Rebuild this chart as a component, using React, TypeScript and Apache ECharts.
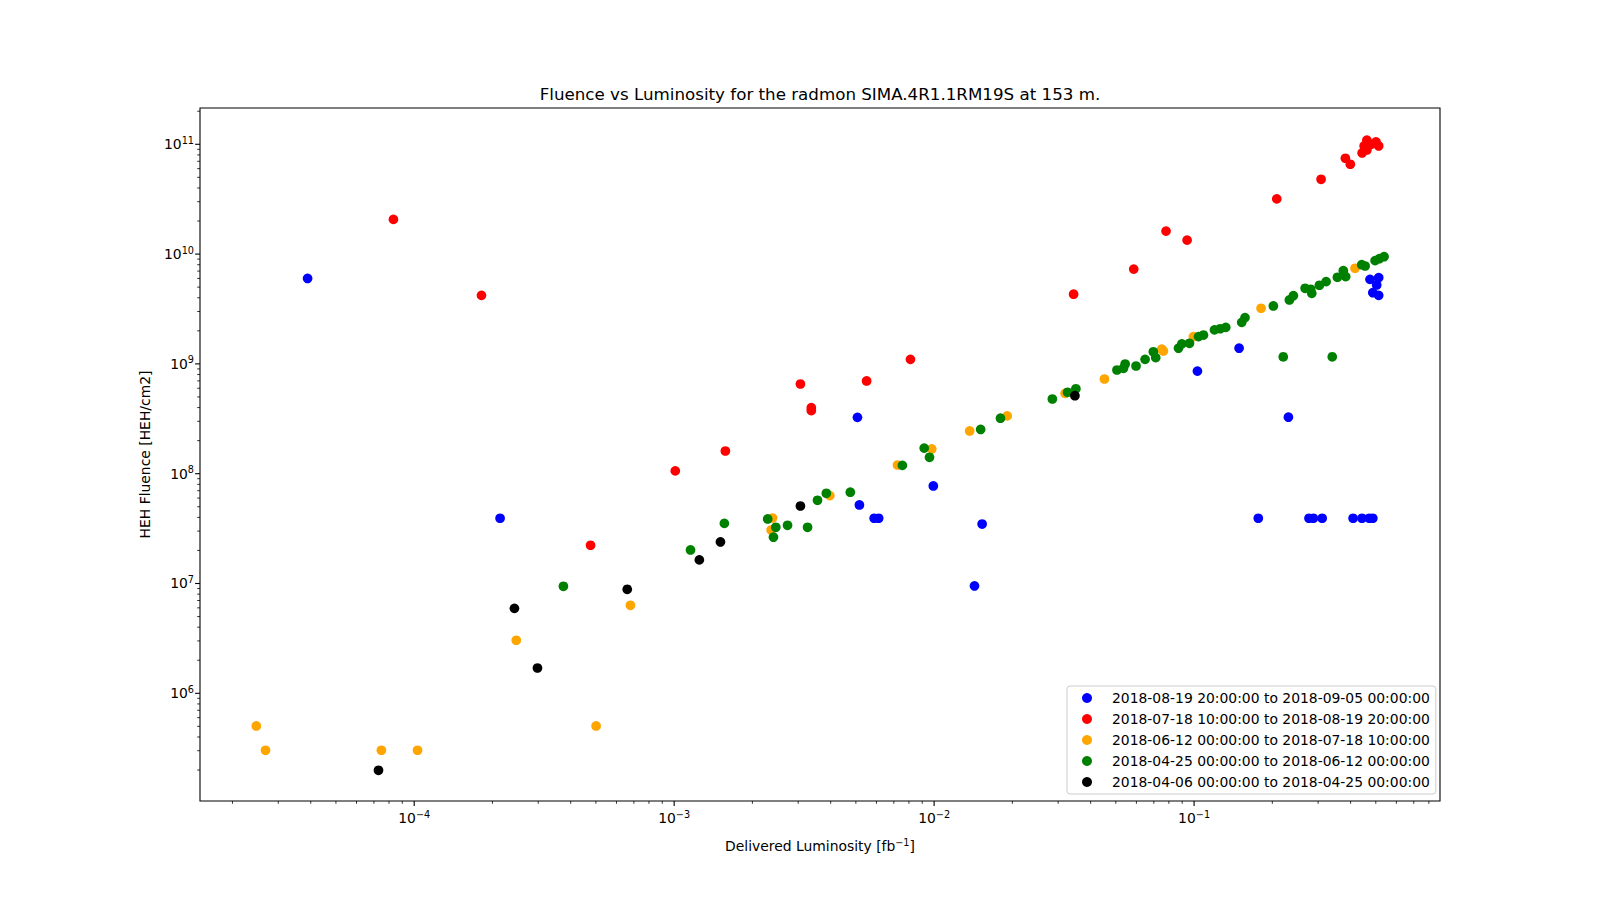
import React, { useEffect, useRef } from 'react';
import * as echarts from 'echarts';

const TITLE = 'Fluence vs Luminosity for the radmon SIMA.4R1.1RM19S at 153 m.';
const FONT = '"DejaVu Sans", Verdana, sans-serif';

const PERIODS = [
  '2018-08-19 20:00:00 to 2018-09-05 00:00:00',
  '2018-07-18 10:00:00 to 2018-08-19 20:00:00',
  '2018-06-12 00:00:00 to 2018-07-18 10:00:00',
  '2018-04-25 00:00:00 to 2018-06-12 00:00:00',
  '2018-04-06 00:00:00 to 2018-04-25 00:00:00',
];
const COLORS = ['#0000ff', '#ff0000', '#ffa500', '#008000', '#000000'];

// [delivered luminosity fb^-1, HEH fluence HEH/cm2]
const blueData = [
  [3.89e-5, 6.0e9], [2.14e-4, 3.93e7], [5.07e-3, 3.26e8], [5.16e-3, 5.19e7],
  [5.88e-3, 3.93e7], [6.12e-3, 3.93e7], [9.93e-3, 7.73e7], [1.43e-2, 9.5e6],
  [1.53e-2, 3.48e7], [0.103, 8.6e8], [0.149, 1.39e9], [0.1766, 3.93e7],
  [0.2306, 3.27e8], [0.2767, 3.93e7], [0.2877, 3.93e7], [0.311, 3.93e7],
  [0.409, 3.93e7], [0.4425, 3.93e7], [0.472, 3.93e7], [0.487, 3.93e7],
  [0.475, 5.89e9], [0.513, 6.1e9], [0.504, 5.23e9], [0.487, 4.45e9], [0.513, 4.21e9],
];

const redData = [
  [8.32e-5, 2.07e10], [1.815e-4, 4.21e9], [4.77e-4, 2.23e7], [1.01e-3, 1.06e8],
  [1.574e-3, 1.61e8], [3.06e-3, 6.56e8], [3.37e-3, 3.99e8], [3.37e-3, 3.75e8],
  [5.5e-3, 6.99e8], [8.11e-3, 1.1e9], [3.44e-2, 4.31e9], [5.86e-2, 7.3e9],
  [0.078, 1.62e10], [0.094, 1.34e10], [0.208, 3.18e10], [0.308, 4.8e10],
  [0.382, 7.46e10], [0.399, 6.58e10], [0.443, 8.34e10], [0.451, 9.66e10],
  [0.462, 1.09e11], [0.462, 8.87e10], [0.48, 1.0e11], [0.501, 1.05e11], [0.513, 9.66e10],
];

const orangeData = [
  [2.47e-5, 5.04e5], [2.68e-5, 3.03e5], [7.48e-5, 3.03e5], [1.03e-4, 3.03e5],
  [2.47e-4, 3.04e6], [5.01e-4, 5.04e5], [6.79e-4, 6.33e6], [2.39e-3, 3.95e7],
  [2.36e-3, 3.07e7], [3.97e-3, 6.31e7], [7.23e-3, 1.2e8], [9.79e-3, 1.68e8],
  [1.37e-2, 2.45e8], [1.91e-2, 3.36e8], [3.19e-2, 5.39e8], [4.52e-2, 7.28e8],
  [7.51e-2, 1.36e9], [7.62e-2, 1.31e9], [9.94e-2, 1.77e9], [0.181, 3.21e9], [0.416, 7.43e9],
];

const greenData = [
  [3.75e-4, 9.43e6], [1.156e-3, 2.02e7], [1.56e-3, 3.53e7], [2.29e-3, 3.87e7],
  [2.46e-3, 3.25e7], [2.41e-3, 2.64e7], [2.73e-3, 3.39e7], [3.26e-3, 3.25e7],
  [3.56e-3, 5.73e7], [3.85e-3, 6.63e7], [4.76e-3, 6.78e7], [7.55e-3, 1.19e8],
  [9.16e-3, 1.71e8], [9.6e-3, 1.41e8], [1.51e-2, 2.53e8], [1.8e-2, 3.2e8],
  [2.85e-2, 4.79e8], [3.26e-2, 5.51e8], [3.51e-2, 5.94e8], [5.05e-2, 8.8e8],
  [5.35e-2, 9.12e8], [5.43e-2, 9.98e8], [5.98e-2, 9.57e8], [6.48e-2, 1.1e9],
  [6.97e-2, 1.29e9], [7.12e-2, 1.14e9], [8.71e-2, 1.39e9], [8.97e-2, 1.52e9],
  [9.6e-2, 1.54e9], [0.104, 1.77e9], [0.1087, 1.83e9], [0.1198, 2.04e9],
  [0.126, 2.09e9], [0.1324, 2.15e9], [0.1525, 2.39e9], [0.157, 2.64e9],
  [0.2018, 3.37e9], [0.2203, 1.16e9], [0.2326, 3.82e9], [0.241, 4.18e9],
  [0.2674, 4.88e9], [0.281, 4.78e9], [0.2836, 4.39e9], [0.3034, 5.2e9],
  [0.322, 5.61e9], [0.34, 1.16e9], [0.3559, 6.15e9], [0.375, 7.06e9],
  [0.383, 6.23e9], [0.4414, 8.0e9], [0.455, 7.79e9], [0.497, 8.71e9],
  [0.516, 9.08e9], [0.538, 9.47e9],
];

const blackData = [
  [7.29e-5, 1.99e5], [2.43e-4, 5.94e6], [2.98e-4, 1.7e6], [6.6e-4, 8.85e6],
  [1.25e-3, 1.64e7], [1.507e-3, 2.39e7], [3.06e-3, 5.08e7], [3.48e-2, 5.13e8],
];

const SERIES_DATA = [blueData, redData, orangeData, greenData, blackData];

const X_RANGE = [1.5e-5, 0.883];
const Y_RANGE = [1.045e5, 2.14e11];
const X_DECADES = [-5, -4, -3, -2, -1];
const Y_DECADES = [5, 6, 7, 8, 9, 10, 11];

// k * 10^e ticks (k = 1 is a major tick) that fall inside the axis range
function ticksIn(decades: number[], lo: number, hi: number) {
  const out: number[][] = [];
  decades.forEach((e) => {
    for (let k = 1; k < 10; k++) {
      const v = k * Math.pow(10, e);
      if (v >= lo && v <= hi) out.push([v, k]);
    }
  });
  return out;
}

const powLabel = (v: number) => {
  const e = Math.log10(v);
  const r = Math.round(e);
  if (Math.abs(e - r) > 1e-6) return '';
  return `{b|10}{s|${r < 0 ? '\u2212' + -r : r}}`;
};

const supRich = {
  b: { fontFamily: FONT, fontSize: 13.9, lineHeight: 18, color: '#000' },
  s: { fontFamily: FONT, fontSize: 9.7, lineHeight: 9, verticalAlign: 'top', color: '#000' },
};

export default function App() {
  const ref = useRef<HTMLDivElement>(null);

  useEffect(() => {
    if (!ref.current) return;
    const chart = echarts.init(ref.current, null, { renderer: 'svg' });

    const scatter = SERIES_DATA.map((d, i) => ({
      name: PERIODS[i],
      type: 'scatter',
      data: d,
      symbol: 'circle',
      symbolSize: 9.7,
      itemStyle: { color: COLORS[i], opacity: 1 },
      emphasis: { disabled: true },
    }));

    const xTicks = ticksIn(X_DECADES, X_RANGE[0], X_RANGE[1]).map(([v, k]) => [v, Y_RANGE[0], k]);
    const yTicks = ticksIn(Y_DECADES, Y_RANGE[0], Y_RANGE[1]).map(([v, k]) => [X_RANGE[0], v, k]);

    chart.setOption({
      animation: false,
      backgroundColor: '#fff',
      textStyle: { fontFamily: FONT },
      grid: {
        left: 200, right: 160, top: 108, bottom: 99,
        show: true, borderColor: '#000', borderWidth: 1.1,
        containLabel: false, outerBoundsMode: 'none',
      },
      graphic: [
        {
          type: 'text', x: 820, y: 94,
          style: { text: TITLE, font: `16.7px ${FONT}`, fill: '#000', align: 'center', verticalAlign: 'middle' },
        },
      ],
      legend: {
        data: PERIODS,
        orient: 'vertical',
        left: 1067, top: 686,
        padding: [5, 6, 5, 15],
        itemWidth: 10, itemHeight: 10, itemGap: 7,
        icon: 'circle',
        textStyle: { fontFamily: FONT, fontSize: 13.9, lineHeight: 14, color: '#000', padding: [0, 0, 0, 15] },
        borderColor: '#cccccc', borderWidth: 1, borderRadius: 3,
        backgroundColor: 'rgba(255,255,255,0.8)',
      },
      xAxis: {
        type: 'log', logBase: 10,
        min: X_RANGE[0], max: X_RANGE[1],
        name: '{n|Delivered Luminosity [fb}{s|\u22121}{n|]}',
        nameLocation: 'middle', nameGap: 36,
        nameTextStyle: {
          rich: {
            n: { fontFamily: FONT, fontSize: 13.9, lineHeight: 18, color: '#000' },
            s: supRich.s,
          },
        },
        axisLine: { show: false },
        axisTick: { show: false },
        splitLine: { show: false },
        minorTick: { show: false },
        axisLabel: { formatter: powLabel, margin: 8, rich: supRich, showMinLabel: true, showMaxLabel: true },
      },
      yAxis: {
        type: 'log', logBase: 10,
        min: Y_RANGE[0], max: Y_RANGE[1],
        name: 'HEH Fluence [HEH/cm2]',
        nameLocation: 'middle', nameGap: 48,
        nameTextStyle: { fontFamily: FONT, fontSize: 13.9, color: '#000' },
        axisLine: { show: false },
        axisTick: { show: false },
        splitLine: { show: false },
        minorTick: { show: false },
        axisLabel: { formatter: powLabel, margin: 6, rich: supRich },
      },
      series: [
        ...scatter,
        {
          type: 'custom',
          silent: true,
          clip: false,
          data: xTicks,
          renderItem: (_p: any, api: any) => {
            const pt = api.coord([api.value(0), api.value(1)]);
            const major = api.value(2) === 1;
            return {
              type: 'line',
              shape: { x1: pt[0], y1: pt[1], x2: pt[0], y2: pt[1] + (major ? 4.9 : 2.8) },
              style: { stroke: '#000', lineWidth: major ? 1.1 : 0.8 },
            };
          },
        },
        {
          type: 'custom',
          silent: true,
          clip: false,
          data: yTicks,
          renderItem: (_p: any, api: any) => {
            const pt = api.coord([api.value(0), api.value(1)]);
            const major = api.value(2) === 1;
            return {
              type: 'line',
              shape: { x1: pt[0], y1: pt[1], x2: pt[0] - (major ? 4.9 : 2.8), y2: pt[1] },
              style: { stroke: '#000', lineWidth: major ? 1.1 : 0.8 },
            };
          },
        },
      ],
    });

    return () => chart.dispose();
  }, []);

  return (
    <div
      ref={ref}
      style={{ position: 'fixed', left: 0, top: 0, width: 1600, height: 900, background: '#fff' }}
    />
  );
}
